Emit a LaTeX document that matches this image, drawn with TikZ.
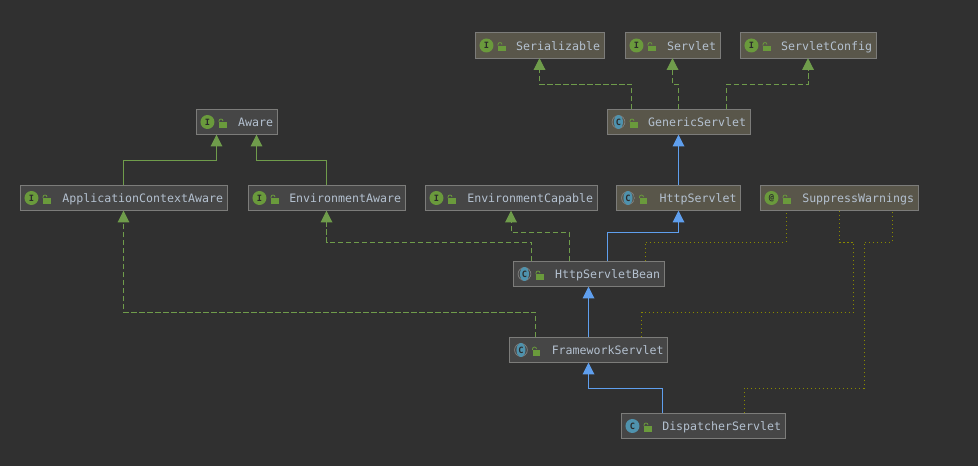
\documentclass[tikz,border=0pt]{standalone}
\usepackage{xcolor}
\usepackage{fontspec}
\usepackage{tikz}
\usetikzlibrary{arrows.meta}
\newfontfamily\diagramfont{DejaVu Sans Mono}

\definecolor{bgdark}{HTML}{303030}
\definecolor{boxgrey}{HTML}{464646}
\definecolor{boxolive}{HTML}{59564A}
\definecolor{boxline}{HTML}{7C7C7A}
\definecolor{labelgrey}{HTML}{B4C1D0}
\definecolor{implgreen}{HTML}{6F9C4B}
\definecolor{extblue}{HTML}{5F9FEE}
\definecolor{annoyellow}{HTML}{8A8A00}
\definecolor{icongreen}{HTML}{6A9A3C}
\definecolor{iconteal}{HTML}{4F92AD}
\definecolor{iconink}{HTML}{2B2B2B}

\tikzset{
    umlbox/.style={draw=boxline, line width=0.75pt, outer sep=0pt, inner xsep=3pt, inner ysep=0pt,
        minimum height=19.1pt, align=right, text=labelgrey, text height=7.6pt, text depth=0.6pt,
        font=\diagramfont\fontsize{8.7}{10}\selectfont},
    greybox/.style={umlbox, fill=boxgrey},
    olivebox/.style={umlbox, fill=boxolive},
    umlicon/.style={circle, minimum size=10.5pt, inner sep=0pt, text=iconink,
        font=\diagramfont\bfseries\fontsize{6.5}{7}\selectfont},
    ifaceicon/.style={umlicon, fill=icongreen},
    annoicon/.style={umlicon, fill=icongreen},
    classicon/.style={umlicon, fill=iconteal},
    abstracticon/.style={umlicon, path picture={
        \draw[boxline, line width=0.6pt] (path picture bounding box.center) circle (4.8pt);
        \fill[iconteal] (path picture bounding box.center) ellipse (3.4pt and 5.25pt);}},
    implline/.style={draw=implgreen, line width=0.75pt, dash pattern=on 4pt off 2pt,
        -{Triangle[width=8.8pt,length=8.8pt,fill=implgreen]}},
    subline/.style={draw=implgreen, line width=0.75pt,
        -{Triangle[width=8.8pt,length=8.8pt,fill=implgreen]}},
    extline/.style={draw=extblue, line width=0.75pt,
        -{Triangle[width=8.8pt,length=8.8pt,fill=extblue]}},
    annoline/.style={draw=annoyellow, line width=0.75pt, dash pattern=on 0.9pt off 2.1pt},
}

% box style, name, centre x, centre y, width, icon style, icon letter, label
\newcommand{\umlnode}[8]{
    \node[#1, minimum width=#5*0.75pt, text width=#5*0.75pt-6pt] (#2) at (#3,#4) {#8};
    \node[#6] (#2icon) at ([xshift=8.6pt]#2.west) {#7};
    \begin{scope}[shift={(#2.west)}]
        \fill[icongreen] (23,0.2) rectangle (30.5,5.6);
        \draw[icongreen, line width=0.6pt] (23,0.2) -- (23,-1) .. controls (23,-3.6) and (27,-3.6) .. (27,-1);
    \end{scope}
}

\begin{document}
\begin{tikzpicture}[x=0.75pt,y=0.75pt,yscale=-1,xscale=1]
        \fill[bgdark] (0,0) rectangle (978,466);

        \umlnode{olivebox}{serial}{539.5}{45.5}{129}{ifaceicon}{I}{Serializable}
        \umlnode{olivebox}{servlet}{672.5}{45.5}{95}{ifaceicon}{I}{Servlet}
        \umlnode{olivebox}{config}{808}{45.5}{136}{ifaceicon}{I}{ServletConfig}
        \umlnode{olivebox}{generic}{678.5}{122}{143}{abstracticon}{C}{GenericServlet}
        \umlnode{greybox}{aware}{236.5}{122}{81}{ifaceicon}{I}{Aware}
        \umlnode{greybox}{appaware}{123.5}{198}{207}{ifaceicon}{I}{ApplicationContextAware}
        \umlnode{greybox}{envaware}{326.5}{198}{157}{ifaceicon}{I}{EnvironmentAware}
        \umlnode{greybox}{envcapable}{511}{198}{172}{ifaceicon}{I}{EnvironmentCapable}
        \umlnode{olivebox}{http}{678.5}{198}{124}{abstracticon}{C}{HttpServlet}
        \umlnode{olivebox}{suppress}{839}{198}{158}{annoicon}{@}{SuppressWarnings}
        \umlnode{greybox}{httpbean}{588.5}{274}{151}{abstracticon}{C}{HttpServletBean}
        \umlnode{greybox}{framework}{588.5}{350}{158}{abstracticon}{C}{FrameworkServlet}
        \umlnode{greybox}{dispatcher}{703}{426}{164}{classicon}{C}{DispatcherServlet}

        % top row
        \draw[implline] ([xshift=-35.25pt]generic.north) -- ++(0,-25) -| (serial.south);
        \draw[implline] (generic.north) -- ++(0,-25) -| (servlet.south);
        \draw[implline] ([xshift=36pt]generic.north) -- ++(0,-25) -| (config.south);
        \draw[extline] (http.north) -- (generic.south);

        % aware
        \draw[subline] (appaware.north) -- ++(0,-25) -| ([xshift=-15pt]aware.south);
        \draw[subline] (envaware.north) -- ++(0,-25) -| ([xshift=15pt]aware.south);

        % httpbean
        \draw[implline] ([xshift=-42.4pt]httpbean.north) -- ++(0,-19) -| (envaware.south);
        \draw[implline] ([xshift=-14.6pt]httpbean.north) -- ++(0,-29) -| (envcapable.south);
        \draw[extline] ([xshift=14pt]httpbean.north) -- ++(0,-29) -| (http.south);
        \draw[annoline] ([xshift=42.4pt]httpbean.north) -- ++(0,-19) -| ([xshift=-39.75pt]suppress.south);

        % framework
        \draw[extline] (framework.north) -- (httpbean.south);
        \draw[implline] ([xshift=-39.75pt]framework.north) -- ++(0,-25) -| (appaware.south);
        \draw[annoline] ([xshift=39.75pt]framework.north) -- ++(0,-25) -- ++(212,0) -- ++(0,-70) -| (suppress.south);

        % dispatcher
        \draw[extline] ([xshift=-30.75pt]dispatcher.north) -- ++(0,-25) -| (framework.south);
        \draw[annoline] ([xshift=30.75pt]dispatcher.north) -- ++(0,-25) -- ++(120,0) -- ++(0,-146) -| ([xshift=39.75pt]suppress.south);
\end{tikzpicture}
\end{document}
